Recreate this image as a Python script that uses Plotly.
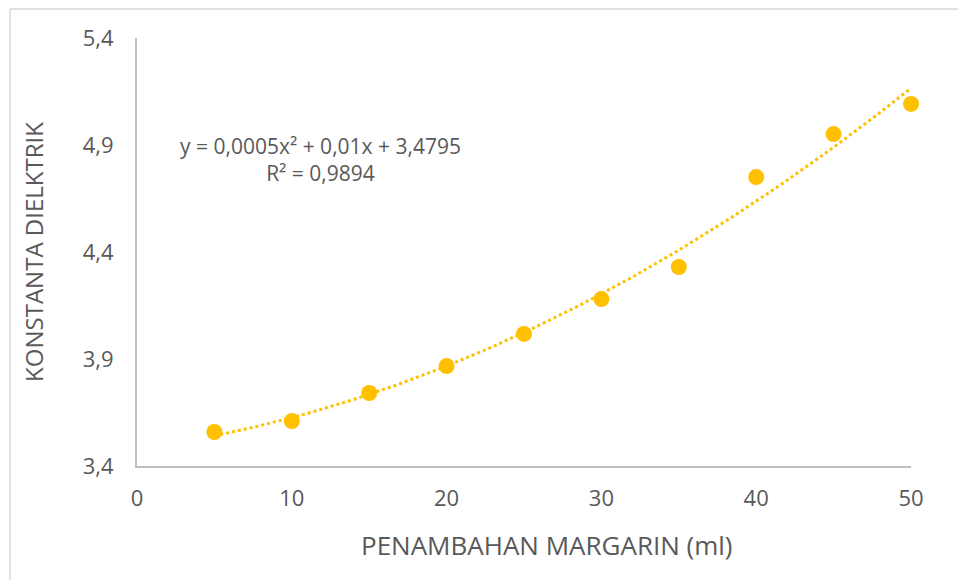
import numpy as np
import plotly.graph_objects as go

# Margarine added (ml) vs. dielectric constant
margarin_ml = [5, 10, 15, 20, 25, 30, 35, 40, 45, 50]
konstanta = [3.559, 3.610, 3.741, 3.867, 4.017, 4.180, 4.330, 4.750, 4.951, 5.092]

x_ticks = [0, 10, 20, 30, 40, 50]
y_ticks = [3.4, 3.9, 4.4, 4.9, 5.4]
y_tick_text = ["3,4", "3,9", "4,4", "4,9", "5,4"]

equation_text = "y = 0,0005x² + 0,01x + 3,4795<br>R² = 0,9894"
x_title = "PENAMBAHAN MARGARIN (ml)"
y_title = "KONSTANTA DIELKTRIK"

GOLD = "#FFC000"
GRID = "#BFBFBF"
TEXT = "#595959"
FONT = "'Open Sans', sans-serif"

# second-order polynomial trendline fitted to the measurements
coef = np.polyfit(margarin_ml, konstanta, 2)
x_fit = np.linspace(min(margarin_ml), max(margarin_ml), 200)
y_fit = np.polyval(coef, x_fit)

fig = go.Figure()
fig.add_trace(go.Scatter(
    x=x_fit, y=y_fit, mode="lines",
    line=dict(color=GOLD, width=3, dash="dot"),
    hoverinfo="skip", showlegend=False, cliponaxis=False,
))
fig.add_trace(go.Scatter(
    x=margarin_ml, y=konstanta, mode="markers",
    marker=dict(color=GOLD, size=16),
    showlegend=False, cliponaxis=False,
))

# trendline equation
fig.add_annotation(
    x=0.237, y=0.716, xref="paper", yref="paper",
    xanchor="center", yanchor="middle",
    text=equation_text, showarrow=False, align="center",
    font=dict(family=FONT, size=21, color=TEXT),
)

# x-axis title, set slightly right of the plot centre
fig.add_annotation(
    x=0.53, y=-0.185, xref="paper", yref="paper",
    xanchor="center", yanchor="middle",
    text=x_title, showarrow=False,
    font=dict(family=FONT, size=26, color=TEXT),
)

# light frame along the top and left edges
fig.add_shape(type="line", xref="paper", yref="paper",
              x0=-0.164, x1=1.1, y0=1.068, y1=1.068,
              line=dict(color="#D9D9D9", width=1.5))
fig.add_shape(type="line", xref="paper", yref="paper",
              x0=-0.164, x1=-0.164, y0=-0.3, y1=1.068,
              line=dict(color="#D9D9D9", width=1.5))

fig.update_layout(
    width=958, height=580,
    margin=dict(l=137, r=47, t=38, b=114),
    paper_bgcolor="white", plot_bgcolor="white",
    separators=",.",
    font=dict(family=FONT, color=TEXT),
    xaxis=dict(
        range=[0, 50], tickvals=x_ticks,
        showgrid=False, zeroline=False,
        showline=True, linecolor=GRID, linewidth=2,
        ticks="", ticklabelstandoff=12,
        tickfont=dict(size=22, color=TEXT),
    ),
    yaxis=dict(
        range=[3.4, 5.4], tickvals=y_ticks, ticktext=y_tick_text,
        showgrid=False, zeroline=False,
        showline=True, linecolor=GRID, linewidth=2,
        ticks="", ticklabelstandoff=17,
        tickfont=dict(size=22, color=TEXT),
        title=dict(text=y_title, standoff=32,
                   font=dict(size=24, color=TEXT)),
    ),
)

fig.write_html("out.html")
